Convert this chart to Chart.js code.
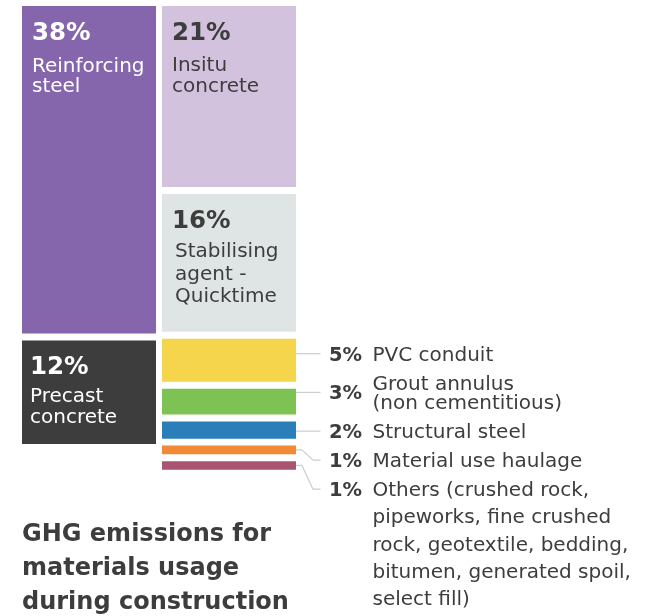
<!DOCTYPE html>
<html>
<head>
<meta charset="utf-8">
<script src="https://cdn.jsdelivr.net/npm/chart.js@4.4.1/dist/chart.umd.min.js"></script>
<style>
  html, body { margin: 0; padding: 0; background: #fff; }
  canvas { display: block; }
</style>
</head>
<body>
<canvas id="chart" width="648" height="616"></canvas>
<script>
// Data (shares in % of total)
const columns = ['Main', 'Other'];
const leftShares = [38, 12];
const leftNames = [['Reinforcing', 'steel'], ['Precast', 'concrete']];
const rightShares = [21, 16, 5, 3, 2, 1, 1];
const rightNames = [
    ['Insitu', 'concrete'],
    ['Stabilising', 'agent -', 'Quicktime'],
    ['PVC conduit'],
    ['Grout annulus', '(non cementitious)'],
    ['Structural steel'],
    ['Material use haulage'],
    ['Others (crushed rock,', 'pipeworks, fine crushed', 'rock, geotextile, bedding,', 'bitumen, generated spoil,', 'select fill)']
];
const titleLines = ['GHG emissions for', 'materials usage', 'during construction'];

// Styles
const leftColors = ['#8566ac', '#3d3d3d'];
const leftText = ['#ffffff', '#ffffff'];
const rightColors = ['#d3c2de', '#dfe5e4', '#f5d54b', '#7dc354', '#2a7fb8', '#f28a35', '#a95572'];
const rightText = ['#3d3d3d', '#3d3d3d'];
const textDark = '#3d3d3d';
const lineColor = '#c9cdd0';
const FONT = '"DejaVu Sans", sans-serif';
const GAP = 0.8; // white space between blocks, in % units

// stack the shares top-down as floating bars
function toRanges(shares) {
    let y = 0;
    return shares.map(v => {
        const r = [y, y + v];
        y += v + GAP;
        return r;
    });
}
const leftRanges = toRanges(leftShares);
const rightRanges = toRanges(rightShares);

const datasets = rightShares.map((_, k) => ({
    data: [leftRanges[k] || null, rightRanges[k]],
    backgroundColor: [leftColors[k] || 'transparent', rightColors[k]],
    borderWidth: 0,
    barPercentage: 134 / 140,
    categoryPercentage: 1
}));

function barBox(chart, k, col) {
    const el = chart.getDatasetMeta(k).data[col];
    return {
        left: el.x - el.width / 2,
        right: el.x + el.width / 2,
        top: Math.min(el.y, el.base),
        bottom: Math.max(el.y, el.base)
    };
}

const labelPlugin = {
    id: 'labels',
    afterDatasetsDraw(chart) {
        const ctx = chart.ctx;
        ctx.save();
        ctx.textBaseline = 'alphabetic';
        ctx.textAlign = 'left';

        // labels inside the big blocks
        const inside = [
            { k: 0, col: 0, pct: leftShares[0], names: leftNames[0], color: leftText[0], dx: 10, ndx: 10, ndy: 65.5, lh: 20.5 },
            { k: 1, col: 0, pct: leftShares[1], names: leftNames[1], color: leftText[1], dx: 8, ndx: 8, ndy: 61.5, lh: 21.5 },
            { k: 0, col: 1, pct: rightShares[0], names: rightNames[0], color: rightText[0], dx: 10, ndx: 10, ndy: 65, lh: 21 },
            { k: 1, col: 1, pct: rightShares[1], names: rightNames[1], color: rightText[1], dx: 10, ndx: 13, ndy: 63.5, lh: 22.5 }
        ];
        inside.forEach(b => {
            const box = barBox(chart, b.k, b.col);
            ctx.fillStyle = b.color;
            ctx.font = 'bold 24.5px ' + FONT;
            ctx.fillText(b.pct + '%', box.left + b.dx, box.top + 34);
            ctx.font = '20px ' + FONT;
            b.names.forEach((line, i) => {
                ctx.fillText(line, box.left + b.ndx, box.top + b.ndy + i * b.lh);
            });
        });

        // call-outs for the small blocks
        const first = barBox(chart, 2, 1);
        let cursor = first.top + 22;
        for (let k = 2; k < rightShares.length; k++) {
            const box = barBox(chart, k, 1);
            const names = rightNames[k];
            const n = names.length;
            const lh = n > 2 ? 27.2 : 19.4;
            const pctY = n === 2 ? cursor + lh / 2 : cursor;
            const cy = pctY - 7;
            const x0 = box.right;

            ctx.strokeStyle = lineColor;
            ctx.lineWidth = 1.2;
            ctx.lineJoin = 'round';
            ctx.beginPath();
            if (cy >= box.top && cy <= box.bottom) {
                ctx.moveTo(x0, cy);
                ctx.lineTo(x0 + 24.5, cy);
            } else {
                const sy = (box.top + box.bottom) / 2;
                ctx.moveTo(x0, sy);
                ctx.lineTo(x0 + 6, sy);
                ctx.lineTo(x0 + 17, cy);
                ctx.lineTo(x0 + 24.5, cy);
            }
            ctx.stroke();

            ctx.fillStyle = textDark;
            ctx.font = 'bold 19.5px ' + FONT;
            ctx.fillText(rightShares[k] + '%', x0 + 33, pctY);
            ctx.font = '20px ' + FONT;
            names.forEach((line, i) => {
                ctx.fillText(line, x0 + 76.5, cursor + i * lh);
            });
            cursor += (n - 1) * lh + 29;
        }

        // title
        ctx.fillStyle = textDark;
        ctx.font = 'bold 24px ' + FONT;
        titleLines.forEach((line, i) => {
            ctx.fillText(line, 22, 541 + i * 34);
        });
        ctx.restore();
    }
};

const chart = new Chart(document.getElementById('chart').getContext('2d'), {
    type: 'bar',
    data: { labels: columns, datasets: datasets },
    options: {
        responsive: false,
        animation: false,
        events: [],
        layout: { padding: { left: 19, right: 349, top: 6, bottom: 616 - 6 - 54 * 8.62 } },
        datasets: { bar: { grouped: false } },
        plugins: { legend: { display: false }, tooltip: { enabled: false } },
        scales: {
            x: { display: false },
            y: { display: false, reverse: true, min: 0, max: 54 }
        }
    },
    plugins: [labelPlugin]
});
</script>
</body>
</html>
